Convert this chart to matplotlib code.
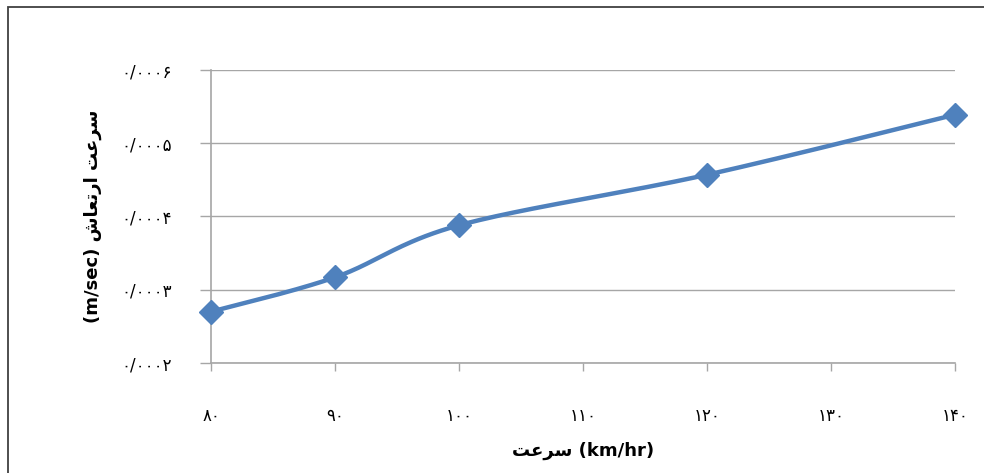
import matplotlib.pyplot as plt
from matplotlib.patches import Rectangle
import numpy as np

# data
speed = [80, 90, 100, 120, 140]
vib = [0.000270, 0.000317, 0.000388, 0.000457, 0.000539]
x_ticks = [80, 90, 100, 110, 120, 130, 140]
x_labels = ['۸۰', '۹۰', '۱۰۰', '۱۱۰', '۱۲۰', '۱۳۰', '۱۴۰']
y_ticks = [0.0002, 0.0003, 0.0004, 0.0005, 0.0006]
y_labels = ['۰/۰۰۰۲', '۰/۰۰۰۳', '۰/۰۰۰۴', '۰/۰۰۰۵', '۰/۰۰۰۶']
# Arabic-script labels in visual (presentation-form) order
x_title = 'ﺖﻋﺮﺳ (km/hr)'
y_title = '(m/sec) ﺵﺎﻌﺗﺭﺍ ﺖﻋﺮﺳ'

line_color = '#4F81BD'
grid_color = '#A6A6A6'


def smooth(xs, ys, n=40):
    # Catmull-Rom style smoothing like spreadsheet "smoothed line"
    px = np.array(xs, float)
    py = np.array(ys, float)
    # normalize so both axes weigh similarly
    sx = (px - px.min()) / (px.max() - px.min())
    sy = (py - 0.0002) / 0.0004 * (293 / 744)
    P = np.column_stack([sx, sy])
    P = np.vstack([P[0], P, P[-1]])
    out = []
    for i in range(1, len(P) - 2):
        p0, p1, p2, p3 = P[i - 1], P[i], P[i + 1], P[i + 2]
        c1 = p1 + (p2 - p0) / 6
        c2 = p2 - (p3 - p1) / 6
        t = np.linspace(0, 1, n)[:, None]
        seg = ((1 - t) ** 3) * p1 + 3 * ((1 - t) ** 2) * t * c1 + 3 * (1 - t) * t ** 2 * c2 + t ** 3 * p2
        out.append(seg)
    out = np.vstack(out)
    ox = out[:, 0] * (px.max() - px.min()) + px.min()
    oy = out[:, 1] / (293 / 744) * 0.0004 + 0.0002
    return ox, oy


fig = plt.figure(figsize=(9.84, 4.73), dpi=100)
ax = fig.add_axes([211 / 984, 1 - 363 / 473, 744 / 984, 293 / 473])

fig.patches.append(Rectangle((8 / 984, -0.1), 1.2, 1 - 7 / 473 + 0.1, transform=fig.transFigure,
                             fill=False, edgecolor='#404040', linewidth=1.3))

sx, sy = smooth(speed, vib)
ax.plot(sx, sy, color=line_color, linewidth=3.2, solid_capstyle='round', zorder=3)
ax.plot(speed, vib, linestyle='none', marker='D', markersize=12, color=line_color, zorder=4, clip_on=False)

ax.set_xlim(80, 140)
ax.set_ylim(0.0002, 0.0006)
ax.set_xticks(x_ticks)
ax.set_xticklabels(x_labels, fontsize=12, family='DejaVu Sans')
ax.set_yticks(y_ticks)
ax.set_yticklabels(y_labels, fontsize=12, family='DejaVu Sans')
ax.tick_params(axis='x', length=6, width=1, color=grid_color, pad=26, direction='out')
ax.tick_params(axis='y', length=8, width=1, color=grid_color, pad=20, direction='out')

ax.grid(axis='y', color=grid_color, linewidth=1)
for s in ['top', 'right']:
    ax.spines[s].set_visible(False)
for s in ['left', 'bottom']:
    ax.spines[s].set_color(grid_color)
    ax.spines[s].set_linewidth(1.2)

ax.set_xlabel(x_title, fontsize=13, fontweight='bold', labelpad=12)
ax.set_ylabel(y_title, fontsize=13, fontweight='bold', labelpad=14)

fig.savefig('out.png', dpi=100)
